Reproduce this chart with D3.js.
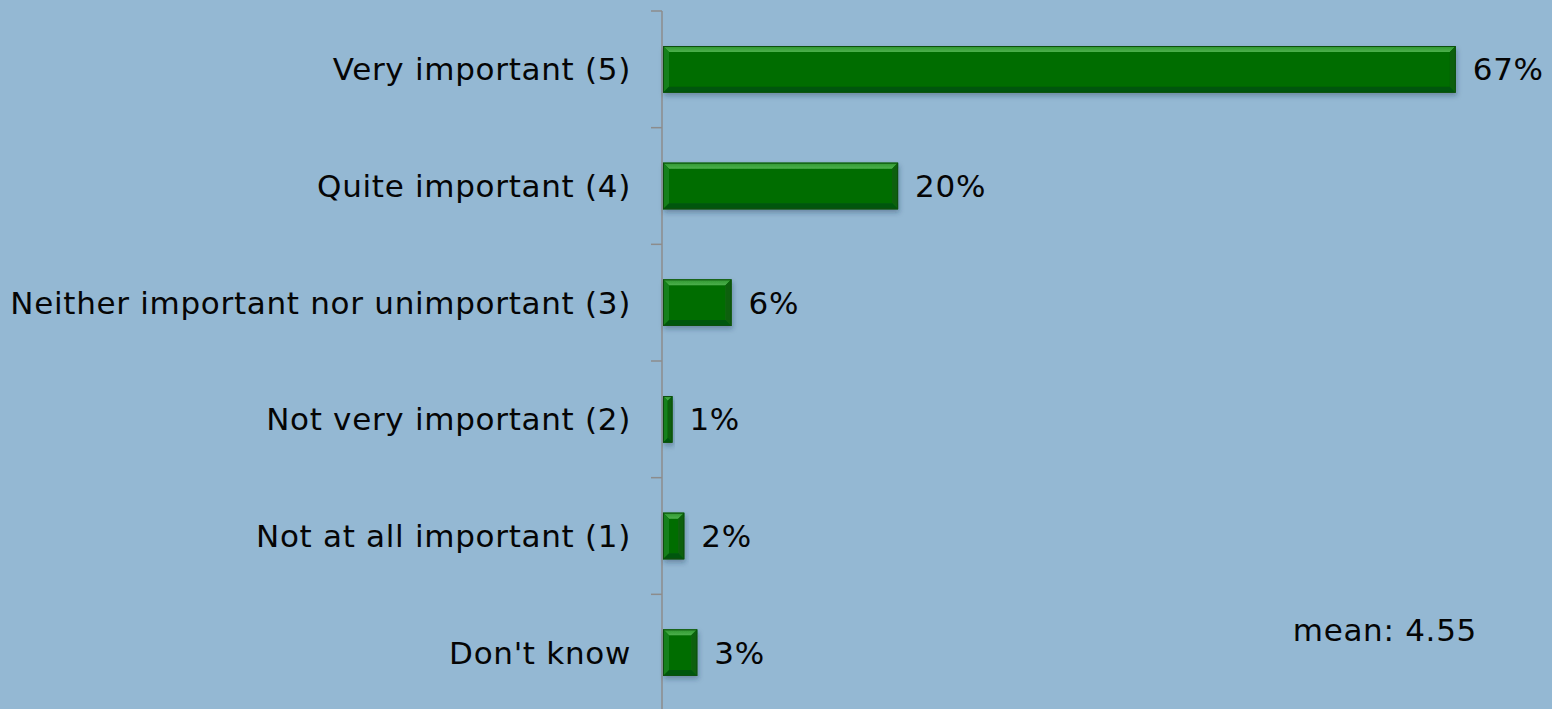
<!DOCTYPE html>
<html>
<head>
<meta charset="utf-8">
<style>
body { margin: 0; background: #94b8d3; overflow: hidden; }
text { font-family: "DejaVu Sans", Verdana, sans-serif; fill: #050505; letter-spacing: 0.7px; }
</style>
<script src="https://cdn.jsdelivr.net/npm/d3@7"></script>
</head>
<body>
<div id="chart"></div>
<script>

// answer categories, top to bottom
var categories = [
  "Very important (5)",
  "Quite important (4)",
  "Neither important nor unimportant (3)",
  "Not very important (2)",
  "Not at all important (1)",
  "Don't know"
];

// share of respondents, %
var shares = [67.1, 19.9, 5.8, 0.8, 1.8, 2.9];

var meanLabel = "mean: 4.55";

var W = 1552, H = 709;
var axisX = 662;

var svg = d3.select("#chart").append("svg")
    .attr("width", W)
    .attr("height", H);

svg.append("rect").attr("width", W).attr("height", H).attr("fill", "#94b8d3");

var defs = svg.append("defs");
var shadow = defs.append("filter").attr("id", "shadow")
    .attr("x", "-10%").attr("y", "-20%").attr("width", "130%").attr("height", "160%");
shadow.append("feDropShadow")
    .attr("dx", 1).attr("dy", 3).attr("stdDeviation", 2.5)
    .attr("flood-color", "#1d3550").attr("flood-opacity", 0.35);

var topGrad = defs.append("linearGradient").attr("id", "topGrad")
    .attr("x1", 0).attr("y1", 0).attr("x2", 0).attr("y2", 1);
topGrad.append("stop").attr("offset", "0%").attr("stop-color", "#2f962f");
topGrad.append("stop").attr("offset", "100%").attr("stop-color", "#4cb04c");

var x = d3.scaleLinear().domain([0, 70]).range([0, 827]);

var y = d3.scaleBand()
    .domain(categories)
    .range([11, 711])
    .paddingInner(0.6)
    .paddingOuter(0.3);

// axis line + ticks between bands
var g = svg.append("g");
g.append("line")
    .attr("x1", axisX).attr("x2", axisX)
    .attr("y1", 11).attr("y2", H)
    .attr("stroke", "#8c8c8c").attr("stroke-width", 1.5);

var tickYs = categories.map(function(c) { return y(c) - y.step() * y.paddingInner() / 2; });
tickYs.push(tickYs[tickYs.length - 1] + y.step());
g.selectAll(".tick").data(tickYs).enter().append("line")
    .attr("x1", axisX - 11).attr("x2", axisX)
    .attr("y1", function(d) { return d; })
    .attr("y2", function(d) { return d; })
    .attr("stroke", "#8c8c8c").attr("stroke-width", 1.5);

// category labels
g.selectAll(".cat").data(categories).enter().append("text")
    .attr("x", axisX - 31)
    .attr("y", function(d) { return y(d) + y.bandwidth() / 2; })
    .attr("dy", "0.36em")
    .attr("text-anchor", "end")
    .style("font-size", "31px")
    .text(function(d) { return d; });

// bevelled bars
var bars = svg.selectAll(".bar").data(shares).enter().append("g")
    .attr("filter", "url(#shadow)");

bars.each(function(v, i) {
  var b = d3.select(this);
  var x0 = axisX + 1, x1 = axisX + 1 + x(v);
  var y0 = y(categories[i]), y1 = y0 + y.bandwidth();
  var e = Math.min(6, (x1 - x0) / 2);
  function pts(a) { return a.map(function(p) { return p.join(","); }).join(" "); }

  b.append("rect")
      .attr("x", x0).attr("y", y0)
      .attr("width", x1 - x0).attr("height", y1 - y0)
      .attr("fill", "#066d06");
  b.append("polygon").attr("fill", "url(#topGrad)")
      .attr("points", pts([[x0, y0], [x1, y0], [x1 - e, y0 + e], [x0 + e, y0 + e]]));
  b.append("polygon").attr("fill", "#17801a")
      .attr("points", pts([[x0, y0], [x0 + e, y0 + e], [x0 + e, y1 - e], [x0, y1]]));
  b.append("polygon").attr("fill", "#0a600a")
      .attr("points", pts([[x1, y0], [x1, y1], [x1 - e, y1 - e], [x1 - e, y0 + e]]));
  b.append("polygon").attr("fill", "#04560a")
      .attr("points", pts([[x0, y1], [x1, y1], [x1 - e, y1 - e], [x0 + e, y1 - e]]));
  b.append("rect")
      .attr("x", x0 + 0.5).attr("y", y0 + 0.5)
      .attr("width", x1 - x0 - 1).attr("height", y1 - y0 - 1)
      .attr("fill", "none").attr("stroke", "#0b4f0b").attr("stroke-width", 1);
});

// value labels
svg.selectAll(".val").data(shares).enter().append("text")
    .attr("x", function(d) { return axisX + 1 + x(d) + 17; })
    .attr("y", function(d, i) { return y(categories[i]) + y.bandwidth() / 2; })
    .attr("dy", "0.36em")
    .style("font-size", "31px")
    .text(function(d) { return Math.round(d) + "%"; });

svg.append("text")
    .attr("x", 1477)
    .attr("y", 641)
    .attr("text-anchor", "end")
    .style("font-size", "31px")
    .text(meanLabel);

</script>
</body>
</html>
